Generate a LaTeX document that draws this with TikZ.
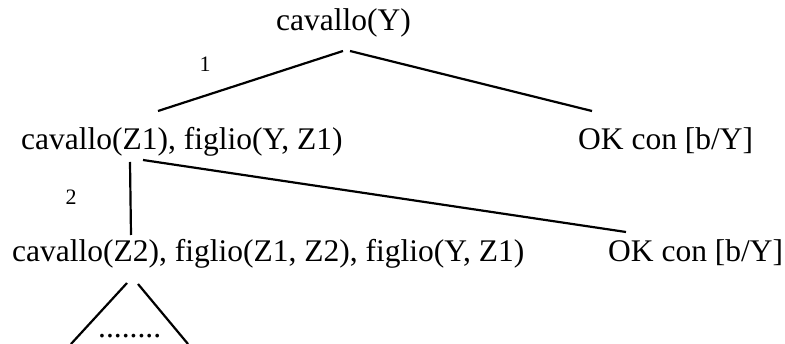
\documentclass[tikz,border=0pt]{standalone}
\usepackage{fontspec}
\setmainfont{Liberation Serif}
\begin{document}
\begin{tikzpicture}[x=1pt,y=-1pt,
  txt/.style={inner sep=0pt,anchor=base west,font=\fontsize{31.5}{36}\selectfont},
  lbl/.style={inner sep=0pt,anchor=base,font=\fontsize{22}{26}\selectfont},
  edge/.style={line width=2.2pt}]
\useasboundingbox (0,0) rectangle (785,344);
% text nodes
\node[txt] (root) at (276,31) {cavallo(Y)};
\node[txt] (n1) at (21,150) {cavallo(Z1), figlio(Y, Z1)};
\node[txt] (ok1) at (578,150) {OK con [b/Y]};
\node[txt] (n2) at (12,262) {cavallo(Z2), figlio(Z1, Z2), figlio(Y, Z1)};
\node[txt] (ok2) at (608,262) {OK con [b/Y]};
\node[txt,text depth=0pt,text height=4pt] (dots) at (98,338) {........};
\node[lbl] (l1) at (205,72) {1};
\node[lbl] (l2) at (71,205) {2};
% connector end points
\coordinate (rA) at (343,51);
\coordinate (rB) at (350,51);
\coordinate (n1top) at (158,111);
\coordinate (ok1top) at (592,111);
\coordinate (n1A) at (130,162);
\coordinate (n1B) at (143,160);
\coordinate (n2top) at (131,235);
\coordinate (ok2top) at (626,232);
\coordinate (tA) at (127,283);
\coordinate (tB) at (138,284);
\coordinate (tL) at (71,344);
\coordinate (tR) at (188,344);
\draw[edge] (rA) -- (n1top);
\draw[edge] (rB) -- (ok1top);
\draw[edge] (n1A) -- (n2top);
\draw[edge] (n1B) -- (ok2top);
\draw[edge] (tA) -- (tL);
\draw[edge] (tB) -- (tR);
\end{tikzpicture}
\end{document}
